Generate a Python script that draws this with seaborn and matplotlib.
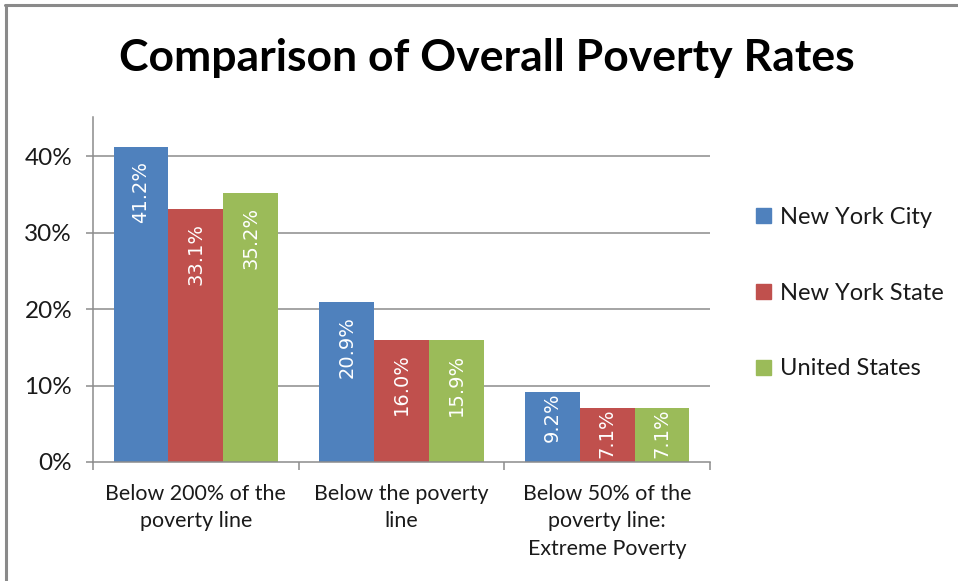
import matplotlib
matplotlib.use("Agg")
import matplotlib.pyplot as plt
import matplotlib.ticker as mticker
from matplotlib.lines import Line2D
import pandas as pd
import seaborn as sns

# Poverty rates by threshold and geography
categories = ["Below 200% of the\npoverty line", "Below the poverty\nline",
              "Below 50% of the\npoverty line:\nExtreme Poverty"]
series = ["New York City", "New York State", "United States"]
nyc = [0.412, 0.209, 0.092]
nys = [0.331, 0.160, 0.071]
usa = [0.352, 0.159, 0.071]
colors = ["#4F81BD", "#C0504D", "#9BBB59"]
yticks = [0.0, 0.1, 0.2, 0.3, 0.4]

rows = []
for name, vals in zip(series, [nyc, nys, usa]):
    for cat, v in zip(categories, vals):
        rows.append({"category": cat, "series": name, "rate": v})
df = pd.DataFrame(rows)

sns.set_theme(style="white")
plt.rcParams["font.family"] = ["Lato", "DejaVu Sans"]

fig = plt.figure(figsize=(9.58, 5.81), dpi=100)
ax = fig.add_axes([93 / 958, 1 - 462 / 581, (710 - 93) / 958, (462 - 117) / 581])

sns.barplot(data=df, x="category", y="rate", hue="series", order=categories,
            hue_order=series, palette=colors, width=0.8, gap=0,
            saturation=1, linewidth=0, ax=ax, legend=True)

ax.set_ylim(0, 0.451)
ax.set_xlim(-0.5, len(categories) - 0.5)
ax.set_yticks(yticks)
ax.yaxis.set_major_formatter(mticker.FuncFormatter(lambda v, _: f"{v:.0%}"))
ax.set_xlabel("")
ax.set_ylabel("")

grid_c = "#8C8C8C"
for y in yticks[1:]:
    ax.axhline(y, color=grid_c, lw=1.1, zorder=0)
ax.set_axisbelow(True)

for side in ["top", "right"]:
    ax.spines[side].set_visible(False)
for side in ["left", "bottom"]:
    ax.spines[side].set_color(grid_c)
    ax.spines[side].set_linewidth(1.1)

ax.tick_params(axis="y", which="major", left=True, length=5, width=1.1,
               color=grid_c, labelsize=17.5, labelcolor="#1a1a1a", pad=10)
ax.tick_params(axis="x", which="major", bottom=False, labelsize=15.4,
               labelcolor="#1a1a1a", pad=10)
for lbl in ax.get_xticklabels():
    lbl.set_linespacing(1.45)
# category separators on the x axis
ax.set_xticks([i - 0.5 for i in range(len(categories) + 1)], minor=True)
ax.tick_params(axis="x", which="minor", bottom=True, length=6, width=1.1,
               color=grid_c)

# value labels inside the bar tops; short bars get their label nudged up
px_per_unit = ax.transData.transform((0, 1))[1] - ax.transData.transform((0, 0))[1]
for cont in ax.containers:
    for patch in cont.patches:
        h = patch.get_height()
        gap_px = 14 if h * px_per_unit > 90 else 1
        ax.annotate(f"{h * 100:.1f}%",
                    xy=(patch.get_x() + patch.get_width() / 2, h),
                    xytext=(0, -gap_px * 72 / 100), textcoords="offset points",
                    rotation=90, ha="center", va="top", color="white",
                    fontsize=14, family="DejaVu Sans")

# legend to the right of the plot area
handles = [Line2D([0], [0], marker="s", linestyle="", markersize=10.8,
                  markerfacecolor=c, markeredgecolor=c) for c in colors]
ax.legend(handles, series, loc="center left", bbox_to_anchor=(751 / 958, 1 - 293 / 581),
          bbox_transform=fig.transFigure, frameon=False, fontsize=17,
          labelspacing=2.32, handletextpad=0.23, handlelength=1.0,
          borderaxespad=0, borderpad=0, labelcolor="#1a1a1a")

fig.text(487 / 958, 1 - 58 / 581, "Comparison of Overall Poverty Rates",
         ha="center", va="center", fontsize=32, fontweight="bold", color="black")

# chart frame
border = "#8A8A8A"
fig.add_artist(Line2D([5 / 958, 1], [1 - 5 / 581, 1 - 5 / 581],
                      transform=fig.transFigure, color=border, lw=2.2))
fig.add_artist(Line2D([6 / 958, 6 / 958], [0, 1 - 5 / 581],
                      transform=fig.transFigure, color=border, lw=2.2))

fig.savefig("out.png", dpi=100, facecolor="white")
